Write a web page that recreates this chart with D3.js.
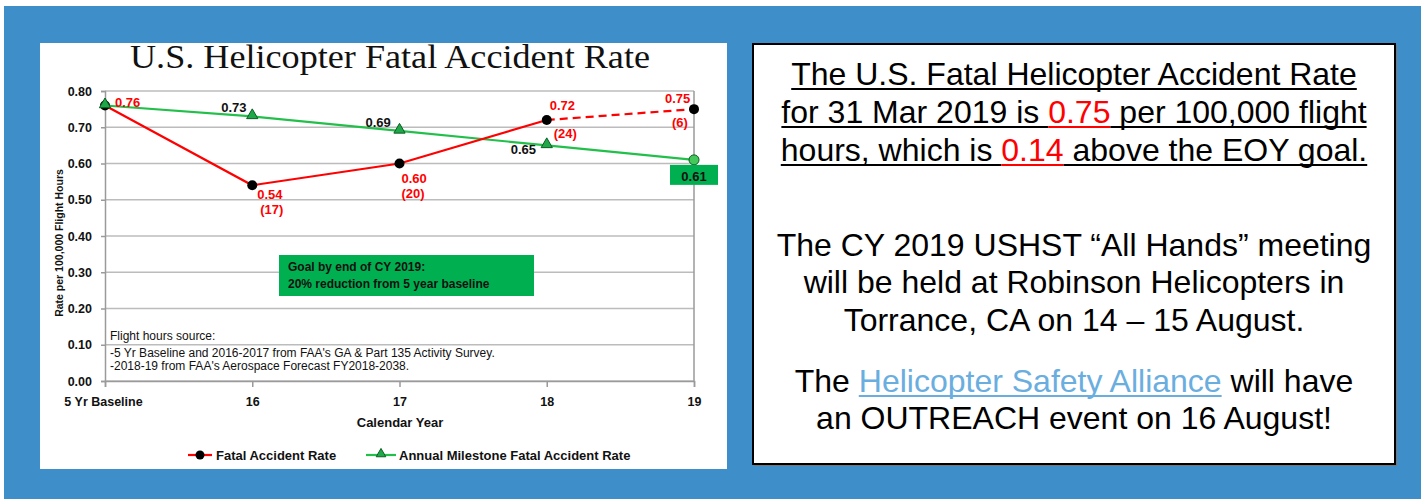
<!DOCTYPE html>
<html>
<head>
<meta charset="utf-8">
<script src="https://cdn.jsdelivr.net/npm/d3@7"></script>
<style>
  body { margin: 0; background: #fff; }
  svg { display: block; }
</style>
</head>
<body>
<div id="chart-area"></div>
<script>
/*
*    helicopter fatal accident rate slide
*/

var categories = ["5 Yr Baseline", "16", "17", "18", "19"];
var fatalRate = [0.76, 0.54, 0.60, 0.72, 0.75];
var fatalCount = [null, 17, 20, 24, 6];
var milestoneRate = [0.76, 0.73, 0.69, 0.65, 0.61];
var yTicks = [0, 0.1, 0.2, 0.3, 0.4, 0.5, 0.6, 0.7, 0.8];

var noteLines = [
    "Flight hours source:",
    "-5 Yr Baseline and 2016-2017 from FAA's GA & Part 135 Activity Survey.",
    "-2018-19 from FAA's Aerospace Forecast FY2018-2038."
];
var goalLines = ["Goal by end of CY 2019:", "20% reduction from 5 year baseline"];

// right hand panel text, segments with a colour
var panelLines = [
    [["The U.S. Fatal Helicopter Accident Rate", "k"]],
    [["for 31 Mar 2019 is ", "k"], ["0.75", "r"], [" per 100,000 flight", "k"]],
    [["hours, which is ", "k"], ["0.14", "r"], [" above the EOY goal.", "k"]],
    [["The CY 2019 USHST \u201cAll Hands\u201d meeting", "k"]],
    [["will be held at Robinson Helicopters in", "k"]],
    [["Torrance, CA on 14 \u2013 15 August.", "k"]],
    [["The ", "k"], ["Helicopter Safety Alliance", "b"], [" will have", "k"]],
    [["an OUTREACH event on 16 August!", "k"]]
];

var W = 1421, H = 499;
var BLUE = "#3e8fc9", RED = "#ff0000", GREEN = "#00b050";
var SANS = "'Liberation Sans', Arial, sans-serif";

var svg = d3.select("#chart-area").append("svg")
    .attr("width", W)
    .attr("height", H);

svg.append("rect").attr("width", W).attr("height", H).attr("fill", "#fff");
svg.append("rect").attr("x", 4).attr("y", 6).attr("width", W - 4).attr("height", H - 6).attr("fill", BLUE);

// chart panel
svg.append("rect").attr("x", 40).attr("y", 43).attr("width", 687).attr("height", 426).attr("fill", "#fff");

svg.append("text")
    .attr("x", 390).attr("y", 68)
    .attr("text-anchor", "middle")
    .attr("font-family", "'Liberation Serif', 'Times New Roman', serif")
    .attr("font-size", 34)
    .attr("textLength", 520)
    .attr("lengthAdjust", "spacingAndGlyphs")
    .attr("fill", "#111")
    .text("U.S. Helicopter Fatal Accident Rate");

var x = d3.scalePoint()
    .domain(categories)
    .range([105, 694]);

var y = d3.scaleLinear()
    .domain([0, 0.8])
    .range([381, 91]);

var g = svg.append("g");

// gridlines
g.selectAll("line.grid").data(yTicks).enter().append("line")
    .attr("class", "grid")
    .attr("x1", 105).attr("x2", 694)
    .attr("y1", (d) => y(d)).attr("y2", (d) => y(d))
    .attr("stroke", "#bcbcbc").attr("stroke-width", 1.5);

g.append("line").attr("x1", 694).attr("x2", 694).attr("y1", y(0.8)).attr("y2", y(0))
    .attr("stroke", "#9a9a9a").attr("stroke-width", 1.5);

var yAxis = g.append("g")
    .attr("transform", "translate(105,0)")
    .call(d3.axisLeft(y).tickValues(yTicks).tickFormat(d3.format(".2f")).tickSize(4).tickPadding(9));

var xAxis = g.append("g")
    .attr("transform", "translate(0," + y(0) + ")")
    .call(d3.axisBottom(x).tickSize(6).tickPadding(10));

[yAxis, xAxis].forEach((a) => {
    a.select(".domain").attr("stroke", "#9a9a9a").attr("stroke-width", 1.5);
    a.selectAll(".tick line").attr("stroke", "#9a9a9a").attr("stroke-width", 1.5);
    a.selectAll("text")
        .attr("font-family", SANS).attr("font-weight", "bold")
        .attr("font-size", 12.5).attr("fill", "#111");
});
xAxis.selectAll(".tick").filter((d, i) => i === 0).select("text").attr("dx", -2);

svg.append("text")
    .attr("x", 400).attr("y", 427)
    .attr("text-anchor", "middle")
    .attr("font-family", SANS).attr("font-weight", "bold").attr("font-size", 13)
    .attr("fill", "#111")
    .text("Calendar Year");

svg.append("text")
    .attr("transform", "translate(63,243) rotate(-90)")
    .attr("text-anchor", "middle")
    .attr("font-family", SANS).attr("font-weight", "bold").attr("font-size", 10.5)
    .attr("fill", "#111")
    .text("Rate per 100,000 Flight Hours");

// goal box
svg.append("rect").attr("x", 279).attr("y", 255).attr("width", 255).attr("height", 41).attr("fill", GREEN);
svg.selectAll("text.goal").data(goalLines).enter().append("text")
    .attr("class", "goal")
    .attr("x", 288).attr("y", (d, i) => 271 + i * 17)
    .attr("font-family", SANS).attr("font-weight", "bold").attr("font-size", 12)
    .attr("fill", "#111")
    .text((d) => d);

// source note
svg.selectAll("text.note").data(noteLines).enter().append("text")
    .attr("class", "note")
    .attr("x", 110).attr("y", (d, i) => [340, 357, 370][i])
    .attr("font-family", SANS).attr("font-size", 12)
    .attr("fill", "#111")
    .text((d) => d);

// lines
var line = d3.line()
    .x((d) => x(d.cat))
    .y((d) => y(d.v));

var milestone = categories.map((c, i) => ({cat: c, v: milestoneRate[i]}));
var fatal = categories.map((c, i) => ({cat: c, v: fatalRate[i], n: fatalCount[i]}));

g.append("path").datum(milestone)
    .attr("d", line).attr("fill", "none")
    .attr("stroke", "#22c04a").attr("stroke-width", 2.2);

g.append("path").datum(fatal.slice(0, 4))
    .attr("d", line).attr("fill", "none")
    .attr("stroke", RED).attr("stroke-width", 2.2);

g.append("path").datum(fatal.slice(3))
    .attr("d", line).attr("fill", "none")
    .attr("stroke", RED).attr("stroke-width", 2.2)
    .attr("stroke-dasharray", "8,5");

g.selectAll("circle.fatal").data(fatal).enter().append("circle")
    .attr("class", "fatal")
    .attr("cx", (d) => x(d.cat)).attr("cy", (d) => y(d.v))
    .attr("r", 5).attr("fill", "#000");

var tri = d3.symbol().type(d3.symbolTriangle).size(55);
g.selectAll("path.ms").data(milestone.slice(0, 4)).enter().append("path")
    .attr("class", "ms")
    .attr("d", tri)
    .attr("transform", (d) => "translate(" + x(d.cat) + "," + (y(d.v) - 1) + ")")
    .attr("fill", "#1fa84a").attr("stroke", "#0b5d22").attr("stroke-width", 1);

var last = milestone[4];
g.append("circle")
    .attr("cx", x(last.cat)).attr("cy", y(last.v))
    .attr("r", 5).attr("fill", "#44c85c").attr("stroke", "#0b5d22").attr("stroke-width", 1);

// labels for fatal rate
var rateOff = [[10, 1], [5, 14], [2, 19], [3, -10], [-29, -6]];
var countOff = [null, [8, 29], [2, 34], [7, 18], [-22, 18]];
g.selectAll("text.rate").data(fatal).enter().append("text")
    .attr("class", "rate")
    .attr("x", (d, i) => x(d.cat) + rateOff[i][0])
    .attr("y", (d, i) => y(d.v) + rateOff[i][1])
    .attr("font-family", SANS).attr("font-weight", "bold").attr("font-size", 13)
    .attr("fill", RED)
    .text((d) => d3.format(".2f")(d.v));

g.selectAll("text.count").data(fatal.filter((d) => d.n !== null)).enter().append("text")
    .attr("class", "count")
    .attr("x", (d) => x(d.cat) + countOff[fatal.indexOf(d)][0])
    .attr("y", (d) => y(d.v) + countOff[fatal.indexOf(d)][1])
    .attr("font-family", SANS).attr("font-weight", "bold").attr("font-size", 13)
    .attr("fill", RED)
    .text((d) => "(" + d.n + ")");

// labels for milestone
var msOff = [null, [-31, -4], [-34, -4], [-36, 9]];
g.selectAll("text.ms").data(milestone.slice(1, 4)).enter().append("text")
    .attr("class", "ms")
    .attr("x", (d, i) => x(d.cat) + msOff[i + 1][0])
    .attr("y", (d, i) => y(d.v) + msOff[i + 1][1])
    .attr("font-family", SANS).attr("font-weight", "bold").attr("font-size", 13)
    .attr("fill", "#111")
    .text((d) => d3.format(".2f")(d.v));

g.append("rect")
    .attr("x", x(last.cat) - 24).attr("y", y(last.v) + 5)
    .attr("width", 48).attr("height", 20)
    .attr("fill", GREEN);
g.append("text")
    .attr("x", x(last.cat)).attr("y", y(last.v) + 21)
    .attr("text-anchor", "middle")
    .attr("font-family", SANS).attr("font-weight", "bold").attr("font-size", 13)
    .attr("fill", "#111")
    .text(d3.format(".2f")(last.v));

// legend
var lg = svg.append("g");
lg.append("line").attr("x1", 188).attr("x2", 212).attr("y1", 455).attr("y2", 455)
    .attr("stroke", RED).attr("stroke-width", 2.2);
lg.append("circle").attr("cx", 200).attr("cy", 455).attr("r", 4.5).attr("fill", "#000");
lg.append("text").attr("x", 216).attr("y", 460)
    .attr("font-family", SANS).attr("font-weight", "bold").attr("font-size", 13).attr("fill", "#111")
    .text("Fatal Accident Rate");
lg.append("line").attr("x1", 366).attr("x2", 396).attr("y1", 455).attr("y2", 455)
    .attr("stroke", "#22c04a").attr("stroke-width", 2.2);
lg.append("path").attr("d", d3.symbol().type(d3.symbolTriangle).size(40))
    .attr("transform", "translate(381,454)")
    .attr("fill", "#1fa84a").attr("stroke", "#0b5d22").attr("stroke-width", 1);
lg.append("text").attr("x", 399).attr("y", 460)
    .attr("font-family", SANS).attr("font-weight", "bold").attr("font-size", 13).attr("fill", "#111")
    .text("Annual Milestone Fatal Accident Rate");

// right panel
svg.append("rect").attr("x", 754).attr("y", 45).attr("width", 643).attr("height", 421).attr("fill", "#777");
svg.append("rect").attr("x", 753).attr("y", 44).attr("width", 642).attr("height", 420)
    .attr("fill", "#fff").attr("stroke", "#000").attr("stroke-width", 2);

var colors = {k: "#000", r: RED, b: "#6aaee0"};
var baselines = [85, 123, 161, 256, 293, 331, 392, 429];
var cx = 1074;

panelLines.forEach((segs, li) => {
    var t = svg.append("text")
        .attr("x", cx).attr("y", baselines[li])
        .attr("text-anchor", "middle")
        .attr("font-family", SANS).attr("font-size", 32);
    segs.forEach((s) => {
        t.append("tspan").attr("fill", colors[s[1]]).text(s[0]);
    });
    var node = t.node();
    var total = node.getComputedTextLength();
    var x0 = cx - total / 2;
    var pos = 0;
    segs.forEach((s, si) => {
        var w = node.getSubStringLength(pos, s[0].length);
        var under = li < 3 || s[1] === "b";
        if (under) {
            svg.append("line")
                .attr("x1", x0).attr("x2", x0 + w)
                .attr("y1", baselines[li] + 4).attr("y2", baselines[li] + 4)
                .attr("stroke", colors[s[1]]).attr("stroke-width", 2);
        }
        x0 += w;
        pos += s[0].length;
    });
});
</script>
</body>
</html>
